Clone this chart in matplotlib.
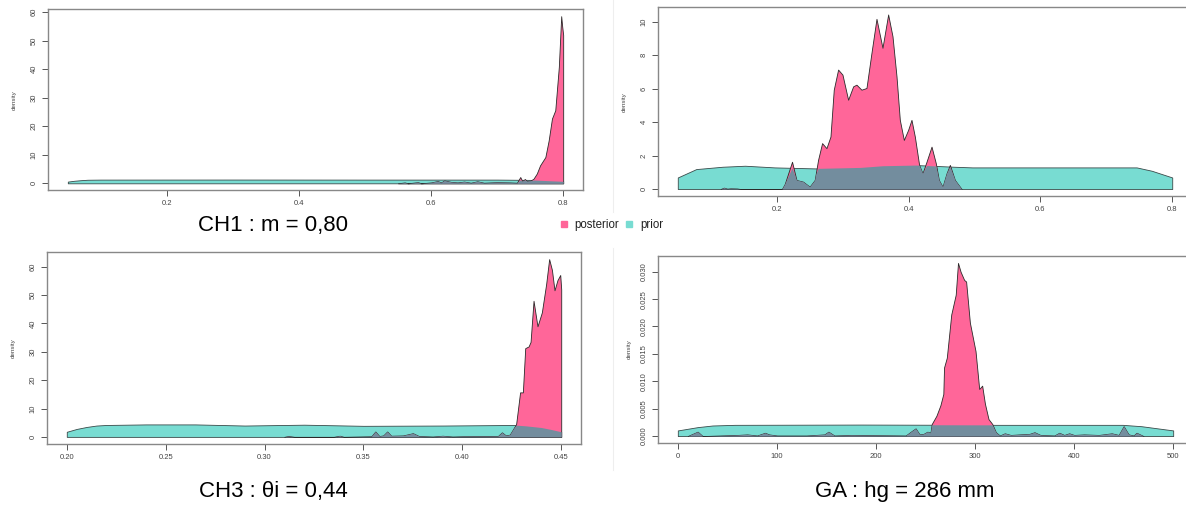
import matplotlib.pyplot as plt
import numpy as np
from matplotlib.lines import Line2D

plt.rcParams['font.family'] = ['Liberation Sans', 'DejaVu Sans']

# couleurs
PINK = '#ff6699'
TEAL = '#78dcd2'
GRAY = '#738d9e'

# CH1 : m
ch1_prior_x = [0.05, 0.06, 0.07, 0.08, 0.10, 0.30, 0.50, 0.70, 0.75, 0.77, 0.79, 0.80]
ch1_prior_y = [0.6, 0.9, 1.1, 1.25, 1.3, 1.32, 1.3, 1.3, 1.2, 1.0, 0.8, 0.7]
ch1_post_x = [0.55, 0.56, 0.565, 0.58, 0.585, 0.60, 0.61, 0.615, 0.62, 0.63, 0.64, 0.65,
              0.66, 0.67, 0.68, 0.70, 0.72, 0.73, 0.735, 0.738, 0.742, 0.745, 0.748, 0.75,
              0.755, 0.76, 0.765, 0.773, 0.778, 0.783, 0.788, 0.7934, 0.797, 0.7985, 0.80]
ch1_post_y = [0, 0.3, 0, 0.4, 0, 0.3, 0.8, 0.3, 1.0, 0.5, 0.3, 0.6,
              0.2, 0.7, 0.2, 0.4, 0.3, 0.2, 2.2, 0.8, 1.5, 0.8, 0.9, 0.9,
              1.6, 3.4, 6.3, 9.2, 15.0, 22.7, 25.6, 40.8, 58.6, 55.0, 52.0]

# panneau haut droite
tr_prior_x = [0.05, 0.078, 0.118, 0.152, 0.197, 0.259, 0.327, 0.361, 0.412, 0.469, 0.497,
              0.582, 0.639, 0.746, 0.769, 0.80]
tr_prior_y = [0.69, 1.19, 1.33, 1.39, 1.29, 1.23, 1.29, 1.39, 1.43, 1.33, 1.29,
              1.29, 1.29, 1.29, 1.09, 0.69]
tr_post_x = [0.115, 0.12, 0.125, 0.13, 0.14, 0.145, 0.208, 0.2122, 0.2233, 0.230, 0.240, 0.250,
             0.2577, 0.2628, 0.2689, 0.2755, 0.2816, 0.2866, 0.2932, 0.2998, 0.3084, 0.316, 0.321, 0.3286,
             0.3362, 0.3438, 0.3514, 0.3605, 0.3691, 0.3757, 0.3818, 0.3868, 0.3929, 0.3994, 0.4045, 0.4096,
             0.4161, 0.4212, 0.4273, 0.4349, 0.4414, 0.446, 0.4516, 0.4577, 0.4627, 0.4703, 0.4805]
tr_post_y = [0, 0.08, 0.02, 0.04, 0.03, 0, 0, 0.3, 1.63, 0.54, 0.44, 0.14,
             0.54, 1.74, 2.74, 2.44, 3.13, 5.93, 7.13, 6.83, 5.33, 6.13, 6.23, 5.93,
             6.03, 8.13, 10.16, 8.43, 10.42, 9.12, 6.72, 4.13, 2.93, 3.53, 4.13, 3.13,
             1.44, 0.94, 1.63, 2.53, 1.54, 0.54, 0.14, 0.94, 1.44, 0.54, 0]

# CH3 : theta i
ch3_prior_x = [0.20, 0.205, 0.21, 0.215, 0.22, 0.24, 0.265, 0.29, 0.32, 0.35, 0.39, 0.426,
               0.432, 0.44, 0.445, 0.45]
ch3_prior_y = [1.8, 2.8, 3.5, 4.0, 4.2, 4.4, 4.4, 4.0, 4.3, 3.9, 4.0, 4.2,
               3.9, 3.3, 2.6, 1.8]
ch3_post_x = [0.31, 0.312, 0.315, 0.335, 0.338, 0.34, 0.354, 0.356, 0.358, 0.36, 0.362, 0.364,
              0.37, 0.375, 0.378, 0.385, 0.39, 0.395, 0.40, 0.418, 0.42, 0.422, 0.424, 0.4272,
              0.4292, 0.4306, 0.4318, 0.4335, 0.4345, 0.436, 0.438, 0.4402, 0.4424, 0.4439,
              0.4453, 0.4466, 0.4481, 0.4495, 0.45]
ch3_post_y = [0, 0.3, 0, 0, 0.4, 0, 0.2, 1.9, 0.3, 0.5, 1.9, 0.4,
              0.5, 1.3, 0.3, 0.1, 0.4, 0.1, 0.2, 0.3, 1.6, 0.5, 0.8, 4.5,
              15.7, 15.7, 31.3, 31.9, 33.5, 48.0, 39.0, 43.9, 54.0, 62.7,
              58.9, 51.7, 55.3, 57.1, 52.0]

# GA : hg
ga_prior_x = [0, 20, 35, 57.6, 185.6, 298.6, 449, 468, 500]
ga_prior_y = [0.00103, 0.00163, 0.00193, 0.00205, 0.0021, 0.00205, 0.00205, 0.0018, 0.00103]
ga_post_x = [10, 20, 25, 60, 70, 80, 88, 92, 100, 130, 148, 152, 158, 175, 230, 236, 240, 244,
             248, 252, 255, 256.3, 261, 265, 268, 268.7, 271.5, 276, 280.5, 282.8, 285.4, 289,
             291, 294.8, 300.5, 304.2, 307.2, 310, 313.6, 317.4, 321, 325, 330, 336, 345, 355,
             360, 366, 380, 385, 390, 395, 400, 410, 425, 438, 445, 450, 455, 460, 463, 470]
ga_post_y = [0, 0.0008, 0, 0.0002, 0.0003, 0.0001, 0.0006, 0.0003, 0.0001, 0.0001, 0.0003, 0.0008,
             0.0001, 0.0002, 0.0001, 0.0009, 0.0014, 0.0003, 0.0004, 0.0008, 0.0006, 0.0022, 0.0037,
             0.0056, 0.0077, 0.0125, 0.0143, 0.0222, 0.0258, 0.0316, 0.030, 0.0285, 0.0282, 0.0207,
             0.0155, 0.0086, 0.0092, 0.0059, 0.0031, 0.0022, 0.0007, 0.0001, 0.0005, 0.0002, 0.0003,
             0.0004, 0.0007, 0.0002, 0.0001, 0.0006, 0.0002, 0.0005, 0.0002, 0.0003, 0.0002, 0.0005,
             0.0002, 0.0018, 0.0003, 0.0001, 0.0006, 0]

W, H = 1186, 511
fig = plt.figure(figsize=(W / 100, H / 100), dpi=100)


def make_ax(l, t, r, b):
    return fig.add_axes([l / W, 1 - b / H, (r - l) / W, (b - t) / H])


def draw(ax, px, py, qx, qy, xlim, xticks, xlabels, yticks, ylabels):
    px, py, qx, qy = map(np.asarray, (px, py, qx, qy))
    grid = np.union1d(px, qx)
    pi = np.interp(grid, px, py, left=0, right=0)
    qi = np.interp(grid, qx, qy, left=0, right=0)
    ax.fill_between(px, py, color=TEAL, edgecolor='#3a4a4a', lw=0.6)
    ax.fill_between(qx, qy, color=PINK, edgecolor='#2a2a2a', lw=0.6)
    ax.fill_between(grid, np.minimum(pi, qi), color=GRAY, lw=0)
    ymax = max(py.max(), qy.max())
    ax.set_ylim(-0.04 * ymax, 1.04 * ymax)
    ax.set_xlim(*xlim)
    ax.set_xticks(xticks)
    ax.set_xticklabels(xlabels)
    ax.set_yticks(yticks)
    ax.set_yticklabels(ylabels, rotation=90, va='center')
    ax.tick_params(direction='out', length=4, width=0.7, color='#555555',
                   labelsize=5.5, labelcolor='#444444', pad=3.5)
    for s in ax.spines.values():
        s.set_color('#888888')
        s.set_linewidth(1.0)
    ax.set_ylabel('density', fontsize=4.5, color='#444444', labelpad=10)


ax1 = make_ax(48, 9.5, 583, 190)
draw(ax1, ch1_prior_x, ch1_prior_y, ch1_post_x, ch1_post_y, (0.02, 0.83),
     [0.2, 0.4, 0.6, 0.8], ['0.2', '0.4', '0.6', '0.8'],
     [0, 10, 20, 30, 40, 50, 60], ['0', '10', '20', '30', '40', '50', '60'])

ax2 = make_ax(658, 7.5, 1192, 196)
draw(ax2, tr_prior_x, tr_prior_y, tr_post_x, tr_post_y, (0.02, 0.83),
     [0.2, 0.4, 0.6, 0.8], ['0.2', '0.4', '0.6', '0.8'],
     [0, 2, 4, 6, 8, 10], ['0', '2', '4', '6', '8', '10'])

ax3 = make_ax(47, 252, 581, 444)
draw(ax3, ch3_prior_x, ch3_prior_y, ch3_post_x, ch3_post_y, (0.19, 0.46),
     [0.20, 0.25, 0.30, 0.35, 0.40, 0.45], ['0.20', '0.25', '0.30', '0.35', '0.40', '0.45'],
     [0, 10, 20, 30, 40, 50, 60], ['0', '10', '20', '30', '40', '50', '60'])

ax4 = make_ax(658, 256, 1193, 443)
draw(ax4, ga_prior_x, ga_prior_y, ga_post_x, ga_post_y, (-20, 520),
     [0, 100, 200, 300, 400, 500], ['0', '100', '200', '300', '400', '500'],
     [0, 0.005, 0.010, 0.015, 0.020, 0.025, 0.030],
     ['0.000', '0.005', '0.010', '0.015', '0.020', '0.025', '0.030'])
ax4.yaxis.labelpad = 6

# legendes sous les panneaux
fig.text(273 / W, 1 - 225 / H, 'CH1 : m = 0,80', fontsize=16, ha='center', va='center')
fig.text(273 / W, 1 - 492 / H, 'CH3 : θi = 0,44', fontsize=16, ha='center', va='center')
fig.text(905 / W, 1 - 492 / H, 'GA : hg = 286 mm', fontsize=16, ha='center', va='center')

# legende commune
fig.patches.append(plt.Rectangle((561 / W, 1 - 227 / H), 6 / W, 6 / H, color=PINK,
                                 transform=fig.transFigure))
fig.text(574 / W, 1 - 225 / H, 'posterior', fontsize=8.3, va='center', color='#222222')
fig.patches.append(plt.Rectangle((626 / W, 1 - 227 / H), 6 / W, 6 / H, color=TEAL,
                                 transform=fig.transFigure))
fig.text(640 / W, 1 - 225 / H, 'prior', fontsize=8.3, va='center', color='#222222')

# traits de separation tres pales
fig.add_artist(Line2D([613 / W, 613 / W], [1 - 0 / H, 1 - 212 / H], color='#eeeeee', lw=0.8))
fig.add_artist(Line2D([613 / W, 613 / W], [1 - 248 / H, 1 - 470 / H], color='#eeeeee', lw=0.8))

fig.savefig('out.png', dpi=100)
